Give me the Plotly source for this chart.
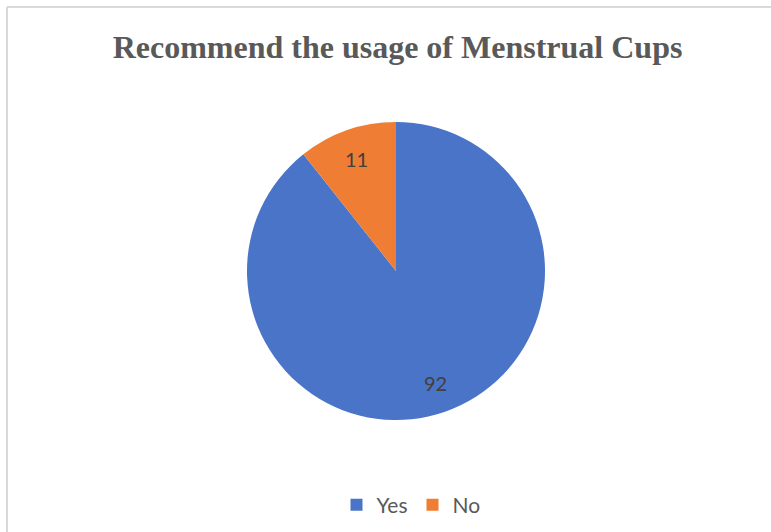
import math
import plotly.graph_objects as go

# Survey responses
categories = ["Yes", "No"]
counts = [92, 11]
slice_colors = ["#4a74c8", "#ef7d33"]

W, H = 771, 532

# pie placement in pixels
cx, cy, radius = 396, 271, 149
label_radius = 0.795

fig = go.Figure(
    go.Pie(
        labels=categories,
        values=counts,
        sort=False,
        direction="clockwise",
        rotation=0,
        marker=dict(colors=slice_colors, line=dict(width=0)),
        textinfo="none",
        hoverinfo="label+value",
        domain=dict(x=[(cx - radius) / W, (cx + radius) / W],
                    y=[1 - (cy + radius) / H, 1 - (cy - radius) / H]),
    )
)

# value labels at each slice's mid-angle (clockwise from 12 o'clock)
total = sum(counts)
start = 0.0
for cat, val in zip(categories, counts):
    sweep = 360.0 * val / total
    mid = math.radians(start + sweep / 2)
    px = cx + label_radius * radius * math.sin(mid)
    py = cy - label_radius * radius * math.cos(mid)
    fig.add_annotation(
        x=px / W, y=1 - py / H, xref="paper", yref="paper",
        text=str(val), showarrow=False,
        xanchor="center", yanchor="middle",
        font=dict(family="Lato, Open Sans, sans-serif", size=20, color="#404040"),
    )
    start += sweep

# chart frame edges (left and top)
frame = dict(color="#d9d9d9", width=2)
fig.add_shape(type="line", xref="paper", yref="paper",
              x0=7 / W, x1=1.02, y0=1 - 7 / H, y1=1 - 7 / H, line=frame)
fig.add_shape(type="line", xref="paper", yref="paper",
              x0=7 / W, x1=7 / W, y0=-0.02, y1=1 - 7 / H, line=frame)

fig.update_layout(
    width=W,
    height=H,
    margin=dict(l=0, r=0, t=0, b=0),
    paper_bgcolor="white",
    plot_bgcolor="white",
    title=dict(
        text="<b>Recommend the usage of Menstrual Cups</b>",
        font=dict(family="Liberation Serif, Times New Roman, serif", size=32, color="#595959"),
        x=397.5 / W, xanchor="center",
        y=1 - 47 / H, yanchor="middle",
    ),
    showlegend=True,
    legend=dict(
        orientation="h",
        x=411 / W, xanchor="center",
        y=1 - 505 / H, yanchor="middle",
        font=dict(family="Lato, Open Sans, sans-serif", size=21, color="#595959"),
        traceorder="normal",
    ),
)

fig.write_html("out.html")
